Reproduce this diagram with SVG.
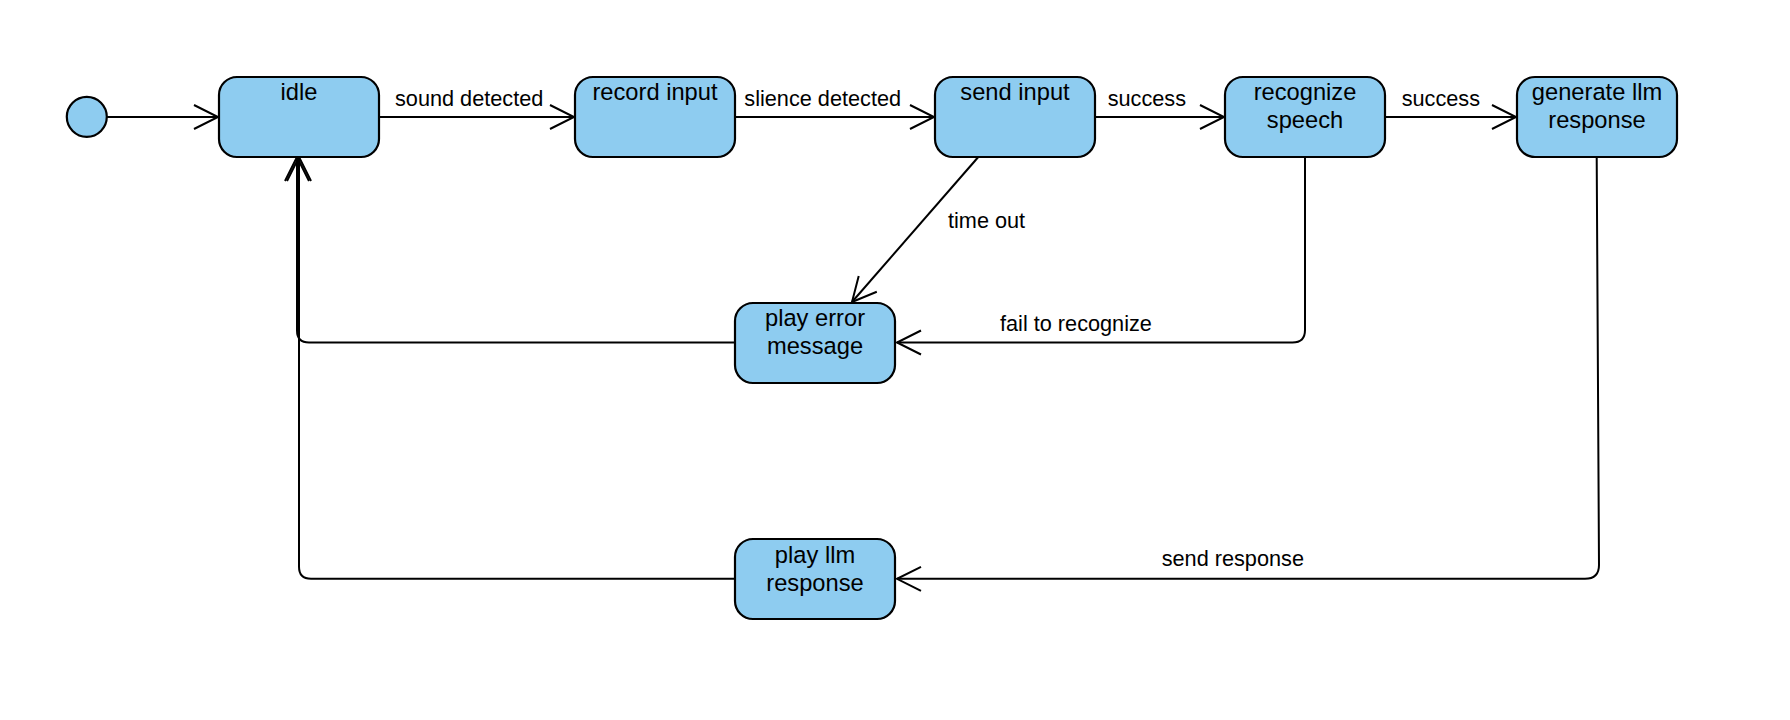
<svg xmlns="http://www.w3.org/2000/svg" width="1790" height="720" viewBox="0 0 1790 720">
<defs>
<marker id="arr" markerUnits="userSpaceOnUse" viewBox="-27 -15 30 30" markerWidth="30" markerHeight="30" refX="0" refY="0" orient="auto">
<path d="M-24,-12 L0,0 L-24,12" fill="none" stroke="#000" stroke-width="2"/>
</marker>
<style>
.box{fill:#8ECCF0;stroke:#000;stroke-width:2.2}
.nt{font-family:"Liberation Sans",Arial,sans-serif;font-size:23.7px;fill:#000;text-anchor:middle}
.lb{font-family:"Liberation Sans",Arial,sans-serif;font-size:21.7px;fill:#000}
.e{fill:none;stroke:#000;stroke-width:2;marker-end:url(#arr)}
</style>
</defs>
<rect width="1790" height="720" fill="#fff"/>
<g id="connectors">
<path class="e" d="M107,117 L218,117"/>
<path class="e" d="M380,117 L574,117"/>
<path class="e" d="M736,117 L934,117"/>
<path class="e" d="M1096,117 L1224,117"/>
<path class="e" d="M1386,117 L1516,117"/>
<path class="e" d="M978.3,157 L852,302"/>
<path class="e" d="M1305,157 L1305,330 Q1305,342.5 1292.5,342.5 L897,342.5"/>
<path class="e" d="M1596.7,157 L1599,565 Q1599,578.8 1585,578.8 L897,578.8"/>
<path class="e" d="M735,342.5 L309,342.5 Q297,342.5 297,330.5 L297,157"/>
<path class="e" d="M735,578.8 L311,578.8 Q299,578.8 299,566.8 L299,157"/>
<text class="lb" x="395" y="105.5">sound detected</text>
<text class="lb" x="744.3" y="105.5">slience detected</text>
<text class="lb" x="1107.7" y="105.5">success</text>
<text class="lb" x="1401.7" y="105.5">success</text>
<text class="lb" x="948" y="227.5">time out</text>
<text class="lb" x="1000" y="331">fail to recognize</text>
<text class="lb" x="1161.7" y="565.5">send response</text>
</g>
<g id="start"><circle cx="86.8" cy="116.8" r="20" class="box"/></g>
<g id="idle"><rect class="box" x="219" y="77" width="160" height="80" rx="18"/><text class="nt" x="299" y="100">idle</text></g>
<g id="record-input"><rect class="box" x="575" y="77" width="160" height="80" rx="18"/><text class="nt" x="655" y="100">record input</text></g>
<g id="send-input"><rect class="box" x="935" y="77" width="160" height="80" rx="18"/><text class="nt" x="1015" y="100">send input</text></g>
<g id="recognize-speech"><rect class="box" x="1225" y="77" width="160" height="80" rx="18"/><text class="nt" x="1305" y="100">recognize</text><text class="nt" x="1305" y="128.3">speech</text></g>
<g id="generate-llm-response"><rect class="box" x="1517" y="77" width="160" height="80" rx="18"/><text class="nt" x="1597" y="100">generate llm</text><text class="nt" x="1597" y="128.3">response</text></g>
<g id="play-error-message"><rect class="box" x="735" y="303" width="160" height="80" rx="18"/><text class="nt" x="815" y="326">play error</text><text class="nt" x="815" y="354.3">message</text></g>
<g id="play-llm-response"><rect class="box" x="735" y="539" width="160" height="80" rx="18"/><text class="nt" x="815" y="562.5">play llm</text><text class="nt" x="815" y="590.8">response</text></g>
</svg>
